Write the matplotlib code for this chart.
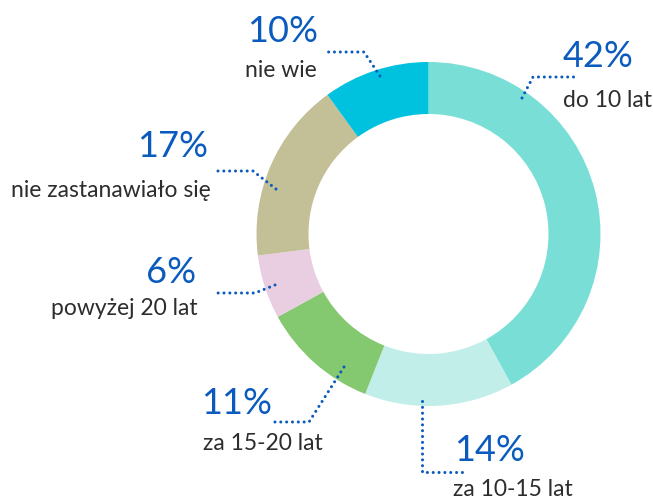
import matplotlib.pyplot as plt

plt.rcParams['font.family'] = ['Lato', 'DejaVu Sans']

# dane
categories = ['do 10 lat', 'za 10-15 lat', 'za 15-20 lat', 'powyżej 20 lat',
              'nie zastanawiało się', 'nie wie']
shares = [42, 14, 11, 6, 17, 10]
colors = ['#79dfd6', '#c1eee9', '#84c870', '#e9cde0', '#c3bf97', '#00c1de']

W, H = 653, 501
BLUE = '#0b5bbf'
DARK = '#2d2d2d'


def fy(y):
    # piksele od góry -> współrzędne osi
    return H - y


fig = plt.figure(figsize=(W / 100, H / 100), dpi=100)
ax = fig.add_axes([0, 0, 1, 1])

# wykres pierścieniowy
ax.pie(shares, colors=colors, startangle=90, counterclock=False,
       center=(428.5, fy(234)), radius=172, frame=True,
       wedgeprops=dict(width=52, linewidth=0))
ax.set_xlim(0, W)
ax.set_ylim(0, H)
ax.set_aspect('equal')
ax.axis('off')

# etykiety: x procentu, x opisu, baseline procentu, baseline opisu, wyrównanie
label_pos = [
    (563, 563, 67, 107, 'left'),
    (454, 453, 461, 496, 'left'),
    (201, 203, 414, 450, 'left'),
    (196, 198, 283, 315, 'right'),
    (208, 211, 157, 197, 'right'),
    (318, 317, 42, 77, 'right'),
]
# linie odniesienia (punkty w pikselach)
leaders = [
    [(522, 98), (533, 77), (578, 77)],
    [(422, 401), (422, 472), (462, 472)],
    [(344, 367), (309, 422), (273, 422)],
    [(275, 285), (255, 293), (217, 293)],
    [(276, 189), (253, 171), (213, 171)],
    [(380, 76), (364, 52), (326, 52)],
]

for cat, val, (xp, xl, yp, yl, ha), pts in zip(categories, shares, label_pos, leaders):
    ax.text(xp, fy(yp), f'{val}%', ha=ha, va='baseline',
            fontsize=26, color=BLUE)
    ax.text(xl, fy(yl), cat, ha=ha, va='baseline',
            fontsize=16.5, color=DARK)
    xs = [p[0] for p in pts]
    ys = [fy(p[1]) for p in pts]
    ax.plot(xs, ys, color=BLUE, lw=2.2, linestyle=(0, (0.01, 1.9)),
            dash_capstyle='round')

fig.savefig('out.png', dpi=100, facecolor='white')
